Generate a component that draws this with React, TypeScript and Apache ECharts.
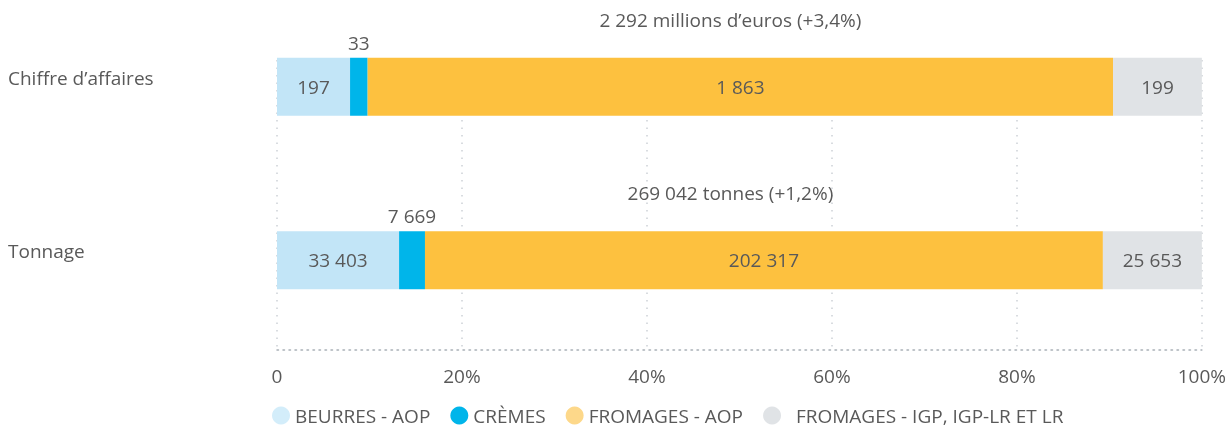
import React, { useEffect, useRef } from "react";
import * as echarts from "echarts";

const categories = ["Chiffre d’affaires", "Tonnage"];
const seriesNames = ["BEURRES - AOP", "CRÈMES", "FROMAGES - AOP", "FROMAGES - IGP, IGP-LR ET LR"];
// displayed values
const beurresValues = [197, 33403];
const cremesValues = [33, 7669];
const fromagesAopValues = [1863, 202317];
const fromagesIgpValues = [199, 25653];
// bar shares (%) as drawn in the reference
const beurresShare = [7.9, 13.2];
const cremesShare = [1.9, 2.8];
const fromagesAopShare = [80.6, 73.3];
const fromagesIgpShare = [9.6, 10.7];
const totalLabels = ["2 292 millions d’euros (+3,4%)", "269 042 tonnes (+1,2%)"];
const xTicks = [0, 20, 40, 60, 80, 100];

const colors = ["#C2E5F7", "#00B5EA", "#FDC13F", "#E0E3E6"];
const legendColors = ["#D3EDFA", "#00B5EA", "#FDD88A", "#E0E3E6"];
const FONT = "Open Sans";
const TXT = "#595959";
const FS = 19;

const fmt = (n: number) => String(n).replace(/\B(?=(\d{3})+(?!\d))/g, " ");

export default function App() {
  const ref = useRef<HTMLDivElement>(null);
  useEffect(() => {
    if (!ref.current) return;
    const chart = echarts.init(ref.current, null, { renderer: "svg" });
    const shares = [beurresShare, cremesShare, fromagesAopShare, fromagesIgpShare];
    const raws = [beurresValues, cremesValues, fromagesAopValues, fromagesIgpValues];
    const barSeries = seriesNames.map((name, i) => ({
      name,
      type: "bar",
      stack: "total",
      barWidth: 58,
      itemStyle: { color: colors[i] },
      data: shares[i],
      label: {
        show: true,
        position: i === 1 ? "top" : "inside",
        distance: 5,
        color: TXT,
        fontFamily: FONT,
        fontSize: FS,
        lineHeight: 20,
        formatter: (p: any) => fmt(raws[i][p.dataIndex]),
      },
    }));
    chart.setOption({
      animation: false,
      textStyle: { fontFamily: FONT },
      grid: { left: 277, right: 25, top: 0, bottom: 78, containLabel: false },
      xAxis: {
        type: "value",
        min: xTicks[0],
        max: xTicks[xTicks.length - 1],
        interval: 20,
        offset: 3,
        axisLine: { show: true, lineStyle: { color: "#A9B0B7", type: [1.5, 4.5], width: 1.5 } },
        axisTick: { show: false },
        splitLine: { show: true, lineStyle: { color: "#CDD1D6", type: [1.5, 6], width: 1.5 } },
        axisLabel: {
          color: TXT,
          fontFamily: FONT,
          fontSize: FS,
          lineHeight: 20,
          margin: 16,
          formatter: (v: number) => (v === 0 ? "0" : v + "%"),
        },
      },
      yAxis: {
        type: "category",
        data: categories,
        inverse: true,
        axisLine: { show: false },
        axisTick: { show: false },
        axisLabel: {
          color: TXT,
          fontFamily: FONT,
          fontSize: FS,
          lineHeight: 18,
          align: "left",
          verticalAlign: "bottom",
          margin: 269,
        },
      },
      legend: {
        data: seriesNames.map((n, i) => ({ name: n, itemStyle: { color: legendColors[i] } })),
        left: 272,
        top: 406,
        padding: 0,
        itemGap: 20,
        itemWidth: 18,
        itemHeight: 18,
        icon: "circle",
        formatter: (n: string) => (n === seriesNames[3] ? "  " + n : n),
        textStyle: { color: TXT, fontFamily: FONT, fontSize: FS, lineHeight: 16 },
      },
      graphic: [
        {
          type: "rect",
          z: 1,
          shape: { x: 270, y: 0, width: 950, height: 56 },
          style: { fill: "#ffffff" },
          silent: true,
        },
      ],
      series: [
        ...barSeries,
        {
          name: "totals",
          type: "scatter",
          symbolSize: 0,
          z: 5,
          itemStyle: { opacity: 1 },
          data: categories.map((c) => [50, c]),
          label: {
            show: true,
            position: "top",
            distance: 57,
            offset: [-9, 0],
            color: TXT,
            fontFamily: FONT,
            fontSize: FS,
            lineHeight: 20,
            formatter: (p: any) => totalLabels[p.dataIndex],
          },
        },
      ],
    });
    return () => chart.dispose();
  }, []);
  return (
    <div
      ref={ref}
      style={{ position: "fixed", left: 0, top: 0, width: 1229, height: 425 }}
    />
  );
}
